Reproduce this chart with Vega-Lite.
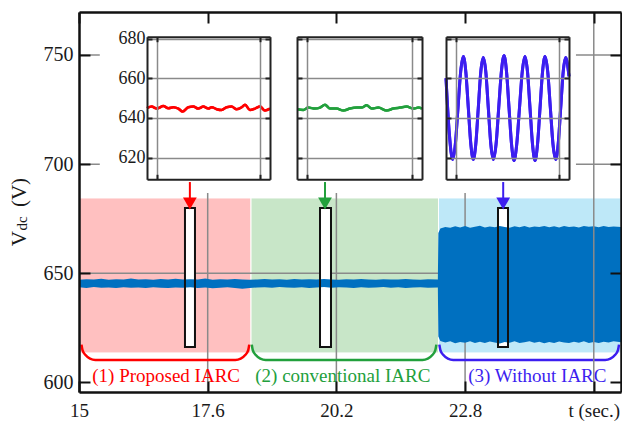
{
 "$schema": "https://vega.github.io/schema/vega-lite/v6.json",
 "width": 542, "height": 380,
 "autosize": "none",
 "padding": {"left": 79, "top": 12, "right": 1, "bottom": 34},
 "background": "white",
 "config": {"view": {"stroke": null}, "font": "Times New Roman", "axis": {"labelFont": "Times New Roman"}, "text": {"font": "Times New Roman"}},
 "datasets": {
  "regions": [
   {"case": "1", "t0": 15, "t1": 18.475, "lo": 613.5, "hi": 684.5},
   {"case": "2", "t0": 18.475, "t1": 22.263, "lo": 613.5, "hi": 684.5},
   {"case": "3", "t0": 22.263, "t1": 25.95, "lo": 613.5, "hi": 684.5}
  ],
  "vgrid": [{"t": 17.6}, {"t": 20.2}, {"t": 22.8}],
  "hgrid": [{"v": 650}, {"v": 700}, {"v": 750}],
  "tline": [{"t": 25.4}],
  "insetbg": [{"t0": 15.42, "t1": 25.04, "lo": 686.8, "hi": 769.7}],
  "signal": [
   {"t": 15.00, "lo": 643.6, "hi": 647.0}, {"t": 15.15, "lo": 643.3, "hi": 647.3}, {"t": 15.30, "lo": 643.7, "hi": 647.1},
   {"t": 15.45, "lo": 643.4, "hi": 647.5}, {"t": 15.60, "lo": 643.5, "hi": 647.0}, {"t": 15.75, "lo": 643.2, "hi": 647.3},
   {"t": 15.90, "lo": 643.6, "hi": 647.2}, {"t": 16.05, "lo": 643.4, "hi": 647.6}, {"t": 16.20, "lo": 643.5, "hi": 647.1},
   {"t": 16.35, "lo": 643.3, "hi": 647.3}, {"t": 16.50, "lo": 643.6, "hi": 647.0}, {"t": 16.65, "lo": 643.4, "hi": 647.4},
   {"t": 16.80, "lo": 643.2, "hi": 647.2}, {"t": 16.95, "lo": 643.5, "hi": 647.5}, {"t": 17.10, "lo": 643.4, "hi": 647.1},
   {"t": 17.25, "lo": 643.6, "hi": 647.3}, {"t": 17.40, "lo": 643.3, "hi": 647.2}, {"t": 17.55, "lo": 643.5, "hi": 647.6},
   {"t": 17.70, "lo": 643.1, "hi": 647.0}, {"t": 17.85, "lo": 643.4, "hi": 647.3}, {"t": 18.00, "lo": 643.6, "hi": 647.2},
   {"t": 18.15, "lo": 643.3, "hi": 647.4}, {"t": 18.30, "lo": 642.9, "hi": 647.1}, {"t": 18.45, "lo": 643.3, "hi": 647.0},
   {"t": 18.60, "lo": 643.5, "hi": 647.2}, {"t": 18.75, "lo": 643.6, "hi": 647.4}, {"t": 18.90, "lo": 643.4, "hi": 647.1},
   {"t": 19.05, "lo": 643.7, "hi": 647.3}, {"t": 19.20, "lo": 643.5, "hi": 647.0}, {"t": 19.35, "lo": 643.4, "hi": 647.4},
   {"t": 19.50, "lo": 643.6, "hi": 647.2}, {"t": 19.65, "lo": 643.3, "hi": 647.3}, {"t": 19.80, "lo": 643.5, "hi": 647.1},
   {"t": 19.95, "lo": 643.7, "hi": 647.4}, {"t": 20.10, "lo": 643.4, "hi": 647.2}, {"t": 20.25, "lo": 643.6, "hi": 647.0},
   {"t": 20.40, "lo": 643.5, "hi": 647.3}, {"t": 20.55, "lo": 643.3, "hi": 647.1}, {"t": 20.70, "lo": 643.6, "hi": 647.4},
   {"t": 20.85, "lo": 643.4, "hi": 647.2}, {"t": 21.00, "lo": 643.5, "hi": 647.0}, {"t": 21.15, "lo": 643.7, "hi": 647.3},
   {"t": 21.30, "lo": 643.4, "hi": 647.2}, {"t": 21.45, "lo": 643.6, "hi": 647.1}, {"t": 21.60, "lo": 643.3, "hi": 647.4},
   {"t": 21.75, "lo": 643.5, "hi": 647.2}, {"t": 21.90, "lo": 643.6, "hi": 647.0}, {"t": 22.05, "lo": 643.4, "hi": 647.3},
   {"t": 22.25, "lo": 643.5, "hi": 647.1},
   {"t": 22.26, "lo": 621.0, "hi": 668.5}, {"t": 22.30, "lo": 619.0, "hi": 670.5}, {"t": 22.40, "lo": 618.3, "hi": 671.2},
   {"t": 22.50, "lo": 618.8, "hi": 670.8}, {"t": 22.60, "lo": 617.9, "hi": 671.5}, {"t": 22.70, "lo": 618.5, "hi": 671.0},
   {"t": 22.80, "lo": 618.2, "hi": 671.6}, {"t": 22.90, "lo": 618.9, "hi": 670.9}, {"t": 23.00, "lo": 618.0, "hi": 671.3},
   {"t": 23.10, "lo": 618.6, "hi": 671.8}, {"t": 23.20, "lo": 618.1, "hi": 671.0}, {"t": 23.30, "lo": 618.7, "hi": 671.4},
   {"t": 23.40, "lo": 618.3, "hi": 671.1}, {"t": 23.50, "lo": 617.8, "hi": 671.7}, {"t": 23.60, "lo": 618.5, "hi": 671.2},
   {"t": 23.70, "lo": 618.2, "hi": 670.8}, {"t": 23.80, "lo": 618.8, "hi": 671.5}, {"t": 23.90, "lo": 618.0, "hi": 671.1},
   {"t": 24.00, "lo": 618.4, "hi": 671.6}, {"t": 24.10, "lo": 618.9, "hi": 671.0}, {"t": 24.20, "lo": 618.2, "hi": 671.4},
   {"t": 24.30, "lo": 618.6, "hi": 671.2}, {"t": 24.40, "lo": 617.9, "hi": 671.7}, {"t": 24.50, "lo": 618.5, "hi": 671.1},
   {"t": 24.60, "lo": 618.1, "hi": 671.5}, {"t": 24.70, "lo": 618.7, "hi": 671.0}, {"t": 24.80, "lo": 618.3, "hi": 671.6},
   {"t": 24.90, "lo": 618.0, "hi": 671.2}, {"t": 25.00, "lo": 618.6, "hi": 671.4}, {"t": 25.10, "lo": 618.2, "hi": 671.0},
   {"t": 25.20, "lo": 618.8, "hi": 671.6}, {"t": 25.30, "lo": 618.1, "hi": 671.3}, {"t": 25.40, "lo": 618.5, "hi": 671.5},
   {"t": 25.50, "lo": 618.0, "hi": 671.1}, {"t": 25.60, "lo": 618.6, "hi": 671.7}, {"t": 25.70, "lo": 618.3, "hi": 671.2},
   {"t": 25.80, "lo": 618.9, "hi": 671.4}, {"t": 25.95, "lo": 618.4, "hi": 671.2}
  ],
  "windows": [
   {"t0": 17.141, "t1": 17.343, "lo": 616.2, "hi": 679.9},
   {"t0": 19.869, "t1": 20.091, "lo": 616.2, "hi": 679.9},
   {"t0": 23.465, "t1": 23.667, "lo": 616.2, "hi": 679.9}
  ],
  "brackets": [
   {"case": "1", "t": 15.05, "v": 617.3}, {"case": "1", "t": 15.071, "v": 614.8}, {"case": "1", "t": 15.132, "v": 612.5}, {"case": "1", "t": 15.223, "v": 610.9}, {"case": "1", "t": 15.33, "v": 610.3},
   {"case": "1", "t": 18.16, "v": 610.3}, {"case": "1", "t": 18.267, "v": 610.9}, {"case": "1", "t": 18.358, "v": 612.5}, {"case": "1", "t": 18.419, "v": 614.8}, {"case": "1", "t": 18.44, "v": 617.3},
   {"case": "2", "t": 18.49, "v": 617.3}, {"case": "2", "t": 18.511, "v": 614.8}, {"case": "2", "t": 18.572, "v": 612.5}, {"case": "2", "t": 18.663, "v": 610.9}, {"case": "2", "t": 18.77, "v": 610.3},
   {"case": "2", "t": 21.94, "v": 610.3}, {"case": "2", "t": 22.047, "v": 610.9}, {"case": "2", "t": 22.138, "v": 612.5}, {"case": "2", "t": 22.199, "v": 614.8}, {"case": "2", "t": 22.22, "v": 617.3},
   {"case": "3", "t": 22.28, "v": 617.3}, {"case": "3", "t": 22.301, "v": 614.8}, {"case": "3", "t": 22.362, "v": 612.5}, {"case": "3", "t": 22.453, "v": 610.9}, {"case": "3", "t": 22.56, "v": 610.3},
   {"case": "3", "t": 25.63, "v": 610.3}, {"case": "3", "t": 25.737, "v": 610.9}, {"case": "3", "t": 25.828, "v": 612.5}, {"case": "3", "t": 25.889, "v": 614.8}, {"case": "3", "t": 25.91, "v": 617.3}
  ],
  "labels": [
   {"case": "1", "t": 16.76, "v": 603.0, "label": "(1) Proposed IARC"},
   {"case": "2", "t": 20.33, "v": 603.0, "label": "(2) conventional IARC"},
   {"case": "3", "t": 24.26, "v": 603.0, "label": "(3) Without IARC"}
  ],
  "arrows": [
   {"case": "1", "t": 17.24, "top": 691.8, "bot": 684.0, "head": 681.96},
   {"case": "2", "t": 19.97, "top": 691.8, "bot": 684.0, "head": 681.96},
   {"case": "3", "t": 23.57, "top": 691.8, "bot": 684.0, "head": 681.96}
  ],
  "ytitle": [
   {"label": "V", "t": 13.81, "v": 665.9},
   {"label": "dc", "t": 13.85, "v": 672.8},
   {"label": "(V)", "t": 13.81, "v": 687.0}
  ],
  "inset1": [
   {"x": 0.0, "v": 644.9}, {"x": 0.038, "v": 645.7}, {"x": 0.079, "v": 644.7}, {"x": 0.133, "v": 646.0}, {"x": 0.173, "v": 644.9},
   {"x": 0.214, "v": 645.4}, {"x": 0.255, "v": 644.7}, {"x": 0.290, "v": 643.2}, {"x": 0.336, "v": 645.4}, {"x": 0.377, "v": 645.7},
   {"x": 0.417, "v": 644.7}, {"x": 0.458, "v": 645.7}, {"x": 0.499, "v": 644.7}, {"x": 0.526, "v": 645.4}, {"x": 0.567, "v": 644.4},
   {"x": 0.607, "v": 644.0}, {"x": 0.648, "v": 645.4}, {"x": 0.688, "v": 645.7}, {"x": 0.729, "v": 644.4}, {"x": 0.770, "v": 645.4},
   {"x": 0.797, "v": 646.7}, {"x": 0.837, "v": 644.0}, {"x": 0.878, "v": 644.7}, {"x": 0.919, "v": 645.7}, {"x": 0.959, "v": 643.7},
   {"x": 1.0, "v": 644.7}
  ],
  "inset2": [
   {"x": 0.003, "v": 644.4}, {"x": 0.051, "v": 644.0}, {"x": 0.091, "v": 645.2}, {"x": 0.144, "v": 644.7}, {"x": 0.184, "v": 645.2},
   {"x": 0.224, "v": 646.7}, {"x": 0.264, "v": 644.7}, {"x": 0.317, "v": 644.7}, {"x": 0.371, "v": 643.7}, {"x": 0.424, "v": 644.7},
   {"x": 0.477, "v": 645.2}, {"x": 0.517, "v": 645.2}, {"x": 0.557, "v": 646.4}, {"x": 0.597, "v": 644.7}, {"x": 0.651, "v": 645.2},
   {"x": 0.717, "v": 643.7}, {"x": 0.771, "v": 644.7}, {"x": 0.824, "v": 645.2}, {"x": 0.877, "v": 645.7}, {"x": 0.931, "v": 644.7},
   {"x": 0.971, "v": 645.2}, {"x": 1.0, "v": 644.7}
  ],
  "inset3": [
   {"x": 0.000, "v": 660}, {"x": 0.027, "v": 632}, {"x": 0.054, "v": 619},
   {"x": 0.0758, "v": 626.6}, {"x": 0.0975, "v": 645}, {"x": 0.1193, "v": 663.4}, {"x": 0.141, "v": 671},
   {"x": 0.161, "v": 663.4}, {"x": 0.1815, "v": 645}, {"x": 0.202, "v": 626.6}, {"x": 0.222, "v": 619},
   {"x": 0.242, "v": 626.6}, {"x": 0.2625, "v": 645}, {"x": 0.283, "v": 663.4}, {"x": 0.303, "v": 670.5},
   {"x": 0.3235, "v": 663.4}, {"x": 0.344, "v": 645}, {"x": 0.3645, "v": 626.6}, {"x": 0.385, "v": 619},
   {"x": 0.4068, "v": 626.6}, {"x": 0.4285, "v": 645}, {"x": 0.4503, "v": 663.4}, {"x": 0.472, "v": 671.5},
   {"x": 0.492, "v": 663.4}, {"x": 0.5125, "v": 645}, {"x": 0.533, "v": 626.6}, {"x": 0.553, "v": 618.5},
   {"x": 0.575, "v": 626.6}, {"x": 0.5975, "v": 645}, {"x": 0.620, "v": 663.4}, {"x": 0.642, "v": 671},
   {"x": 0.6625, "v": 663.4}, {"x": 0.683, "v": 645}, {"x": 0.7035, "v": 626.6}, {"x": 0.724, "v": 618.5},
   {"x": 0.744, "v": 626.6}, {"x": 0.7645, "v": 645}, {"x": 0.785, "v": 663.4}, {"x": 0.805, "v": 671},
   {"x": 0.827, "v": 663.4}, {"x": 0.8485, "v": 645}, {"x": 0.870, "v": 626.6}, {"x": 0.892, "v": 619},
   {"x": 0.912, "v": 626.6}, {"x": 0.9325, "v": 645}, {"x": 0.953, "v": 663.4}, {"x": 0.973, "v": 670.5},
   {"x": 1.000, "v": 661}
  ]
 },
 "layer": [
  {
   "resolve": {"axis": {"x": "independent", "y": "independent"}},
   "layer": [
    {"data": {"name": "regions"}, "mark": {"type": "rect", "stroke": "white", "strokeWidth": 1},
     "encoding": {
      "x": {"field": "t0", "type": "quantitative", "scale": {"domain": [15, 25.95], "nice": false, "zero": false},
            "axis": {"orient": "bottom", "values": [15, 17.6, 20.2, 22.8, 25.4], "labelExpr": "datum.value > 25 ? 't (sec.)' : (datum.value < 16 ? '15' : format(datum.value, '.1f'))",
                     "labelFont": "Times New Roman", "labelFontSize": 19, "labelColor": "#1a1a1a", "labelPadding": 20, "tickSize": -11, "tickWidth": 2, "tickColor": "#111",
                     "domainColor": "#111", "domainWidth": 2.5, "grid": false, "title": null, "labelFlush": false, "labelOverlap": false, "labelBound": false, "zindex": 2}},
      "x2": {"field": "t1"},
      "y": {"field": "lo", "type": "quantitative", "scale": {"domain": [595.6, 769.7], "nice": false, "zero": false},
            "axis": {"orient": "left", "values": [600, 650, 700, 750], "labelFont": "Times New Roman", "labelFontSize": 20, "labelColor": "#1a1a1a", "labelPadding": 17,
                     "tickSize": -11, "tickWidth": 2, "tickColor": "#111", "domainColor": "#111", "domainWidth": 2.5, "grid": false, "title": null,
                     "labelFlush": false, "labelOverlap": false, "labelBound": false, "zindex": 2}},
      "y2": {"field": "hi"},
      "fill": {"field": "case", "type": "nominal", "scale": {"domain": ["1", "2", "3"], "range": ["#FFC0C0", "#C8E6C8", "#BEE8F8"]}, "legend": null}
     }},
    {"data": {"name": "vgrid"}, "mark": {"type": "rule", "color": "#8a8a8a", "strokeWidth": 1.5},
     "encoding": {"x": {"field": "t", "type": "quantitative", "scale": {"domain": [15, 25.95], "nice": false, "zero": false}, "axis": null}}},
    {"data": {"name": "hgrid"}, "mark": {"type": "rule", "color": "#8a8a8a", "strokeWidth": 1.5},
     "encoding": {"y": {"field": "v", "type": "quantitative", "scale": {"domain": [595.6, 769.7], "nice": false, "zero": false}, "axis": null}}},
    {"data": {"name": "windows"}, "mark": {"type": "rect", "fill": "white"},
     "encoding": {
      "x": {"field": "t0", "type": "quantitative", "scale": {"domain": [15, 25.95], "nice": false, "zero": false}, "axis": null},
      "x2": {"field": "t1"},
      "y": {"field": "lo", "type": "quantitative", "scale": {"domain": [595.6, 769.7], "nice": false, "zero": false}, "axis": null},
      "y2": {"field": "hi"}
     }},
    {"data": {"name": "signal"}, "mark": {"type": "area", "color": "#0070C0"},
     "encoding": {
      "x": {"field": "t", "type": "quantitative", "scale": {"domain": [15, 25.95], "nice": false, "zero": false}, "axis": null},
      "y": {"field": "lo", "type": "quantitative", "scale": {"domain": [595.6, 769.7], "nice": false, "zero": false}, "axis": null},
      "y2": {"field": "hi"}
     }},
    {"data": {"name": "windows"}, "mark": {"type": "rect", "fill": null, "fillOpacity": 0, "stroke": "#111", "strokeWidth": 2},
     "encoding": {
      "x": {"field": "t0", "type": "quantitative", "scale": {"domain": [15, 25.95], "nice": false, "zero": false}, "axis": null},
      "x2": {"field": "t1"},
      "y": {"field": "lo", "type": "quantitative", "scale": {"domain": [595.6, 769.7], "nice": false, "zero": false}, "axis": null},
      "y2": {"field": "hi"}
     }},
    {"data": {"name": "brackets"}, "mark": {"type": "line", "strokeWidth": 2.5, "interpolate": "monotone"},
     "encoding": {
      "x": {"field": "t", "type": "quantitative", "scale": {"domain": [15, 25.95], "nice": false, "zero": false}, "axis": null},
      "y": {"field": "v", "type": "quantitative", "scale": {"domain": [595.6, 769.7], "nice": false, "zero": false}, "axis": null},
      "color": {"field": "case", "type": "nominal", "scale": {"domain": ["1", "2", "3"], "range": ["#FF0000", "#22A03C", "#3C1EF0"]}, "legend": null}
     }},
    {"data": {"name": "labels"}, "mark": {"type": "text", "font": "Times New Roman", "fontSize": 19, "align": "center", "baseline": "middle"},
     "encoding": {
      "x": {"field": "t", "type": "quantitative", "scale": {"domain": [15, 25.95], "nice": false, "zero": false}, "axis": null},
      "y": {"field": "v", "type": "quantitative", "scale": {"domain": [595.6, 769.7], "nice": false, "zero": false}, "axis": null},
      "text": {"field": "label"},
      "color": {"field": "case", "type": "nominal", "scale": {"domain": ["1", "2", "3"], "range": ["#FF0000", "#22A03C", "#3C1EF0"]}, "legend": null}
     }},
    {"data": {"name": "tline"}, "mark": {"type": "rule", "color": "#8a8a8a", "strokeWidth": 1.5},
     "encoding": {"x": {"field": "t", "type": "quantitative", "scale": {"domain": [15, 25.95], "nice": false, "zero": false}, "axis": null}}},
    {"data": {"name": "insetbg"}, "mark": {"type": "rect", "fill": "white"},
     "encoding": {
      "x": {"field": "t0", "type": "quantitative", "scale": {"domain": [15, 25.95], "nice": false, "zero": false},
            "axis": {"orient": "top", "values": [15, 17.6, 20.2, 22.8, 25.4], "labels": false, "tickSize": -11, "tickWidth": 2, "tickColor": "#111",
                     "domainColor": "#111", "domainWidth": 2.5, "grid": false, "title": null, "zindex": 2}},
      "x2": {"field": "t1"},
      "y": {"field": "lo", "type": "quantitative", "scale": {"domain": [595.6, 769.7], "nice": false, "zero": false},
            "axis": {"orient": "right", "values": [600, 650, 700, 750], "labels": false, "tickSize": -11, "tickWidth": 2, "tickColor": "#111",
                     "domainColor": "#111", "domainWidth": 2.5, "grid": false, "title": null, "zindex": 2}},
      "y2": {"field": "hi"}
     }},
    {"data": {"name": "arrows"}, "mark": {"type": "rule", "strokeWidth": 2},
     "encoding": {
      "x": {"field": "t", "type": "quantitative", "scale": {"domain": [15, 25.95], "nice": false, "zero": false}, "axis": null},
      "y": {"field": "top", "type": "quantitative", "scale": {"domain": [595.6, 769.7], "nice": false, "zero": false}, "axis": null},
      "y2": {"field": "bot"},
      "color": {"field": "case", "type": "nominal", "scale": {"domain": ["1", "2", "3"], "range": ["#FF0000", "#22A03C", "#3C1EF0"]}, "legend": null}
     }},
    {"data": {"name": "arrows"}, "mark": {"type": "point", "shape": "triangle-down", "filled": true, "size": 190, "opacity": 1},
     "encoding": {
      "x": {"field": "t", "type": "quantitative", "scale": {"domain": [15, 25.95], "nice": false, "zero": false}, "axis": null},
      "y": {"field": "head", "type": "quantitative", "scale": {"domain": [595.6, 769.7], "nice": false, "zero": false}, "axis": null},
      "color": {"field": "case", "type": "nominal", "scale": {"domain": ["1", "2", "3"], "range": ["#FF0000", "#22A03C", "#3C1EF0"]}, "legend": null}
     }},
    {"data": {"name": "ytitle"}, "transform": [{"filter": "datum.label != 'dc'"}],
     "mark": {"type": "text", "font": "Times New Roman", "fontSize": 21, "angle": 270, "align": "center", "baseline": "middle", "color": "#1a1a1a"},
     "encoding": {
      "x": {"field": "t", "type": "quantitative", "scale": {"domain": [15, 25.95], "nice": false, "zero": false}, "axis": null},
      "y": {"field": "v", "type": "quantitative", "scale": {"domain": [595.6, 769.7], "nice": false, "zero": false}, "axis": null},
      "text": {"field": "label"}
     }},
    {"data": {"name": "ytitle"}, "transform": [{"filter": "datum.label == 'dc'"}],
     "mark": {"type": "text", "font": "Times New Roman", "fontSize": 15, "angle": 270, "align": "center", "baseline": "middle", "color": "#1a1a1a"},
     "encoding": {
      "x": {"field": "t", "type": "quantitative", "scale": {"domain": [15, 25.95], "nice": false, "zero": false}, "axis": null},
      "y": {"field": "v", "type": "quantitative", "scale": {"domain": [595.6, 769.7], "nice": false, "zero": false}, "axis": null},
      "text": {"field": "label"}
     }}
   ]
  },
  {
   "data": {"name": "inset1"},
   "resolve": {"axis": {"x": "independent", "y": "independent"}},
   "layer": [
    {"mark": {"type": "line", "color": "#FF0000", "strokeWidth": 2.5, "interpolate": "monotone"},
     "encoding": {
      "x": {"field": "x", "type": "quantitative", "scale": {"domain": [0, 1], "range": [68, 191], "nice": false, "zero": false},
            "axis": {"orient": "top", "offset": -24.7, "values": [0.08, 0.92], "labels": false, "tickSize": -5, "tickWidth": 2, "tickColor": "#222",
                     "domainColor": "#222", "domainWidth": 2, "grid": true, "gridColor": "#8a8a8a", "gridWidth": 1.5, "title": null, "zindex": 1}},
      "y": {"field": "v", "type": "quantitative", "scale": {"domain": [609, 681], "range": [167.3, 24.7], "nice": false, "zero": false},
            "axis": {"orient": "left", "offset": -68, "values": [620, 640, 660, 680], "labels": true, "labelFont": "Times New Roman", "labelFontSize": 18, "labelColor": "#1a1a1a",
                     "labelPadding": 7, "tickSize": -5, "tickWidth": 2, "tickColor": "#222", "domainColor": "#222", "domainWidth": 2,
                     "grid": true, "gridColor": "#8a8a8a", "gridWidth": 1.5, "title": null, "labelFlush": false, "labelOverlap": false, "zindex": 1}}
     }},
    {"mark": {"type": "line", "color": "#FF0000", "strokeWidth": 2.5, "interpolate": "monotone"},
     "encoding": {
      "x": {"field": "x", "type": "quantitative", "scale": {"domain": [0, 1], "range": [68, 191], "nice": false, "zero": false},
            "axis": {"orient": "bottom", "offset": -212.7, "values": [0.08, 0.92], "labels": false, "tickSize": -5, "tickWidth": 2, "tickColor": "#222",
                     "domainColor": "#222", "domainWidth": 2, "grid": false, "title": null, "zindex": 1}},
      "y": {"field": "v", "type": "quantitative", "scale": {"domain": [609, 681], "range": [167.3, 24.7], "nice": false, "zero": false},
            "axis": {"orient": "right", "offset": -351, "values": [620, 640, 660, 680], "labels": false, "tickSize": -5, "tickWidth": 2, "tickColor": "#222",
                     "domainColor": "#222", "domainWidth": 2, "grid": false, "title": null, "zindex": 1}}
     }}
   ]
  },
  {
   "data": {"name": "inset2"},
   "resolve": {"axis": {"x": "independent", "y": "independent"}},
   "layer": [
    {"mark": {"type": "line", "color": "#22A03C", "strokeWidth": 2.5, "interpolate": "monotone"},
     "encoding": {
      "x": {"field": "x", "type": "quantitative", "scale": {"domain": [0, 1], "range": [218, 343], "nice": false, "zero": false},
            "axis": {"orient": "top", "offset": -24.7, "values": [0.08, 0.92], "labels": false, "tickSize": -5, "tickWidth": 2, "tickColor": "#222",
                     "domainColor": "#222", "domainWidth": 2, "grid": true, "gridColor": "#8a8a8a", "gridWidth": 1.5, "title": null, "zindex": 1}},
      "y": {"field": "v", "type": "quantitative", "scale": {"domain": [609, 681], "range": [167.3, 24.7], "nice": false, "zero": false},
            "axis": {"orient": "left", "offset": -218, "values": [620, 640, 660, 680], "labels": false, "tickSize": -5, "tickWidth": 2, "tickColor": "#222",
                     "domainColor": "#222", "domainWidth": 2, "grid": true, "gridColor": "#8a8a8a", "gridWidth": 1.5, "title": null, "zindex": 1}}
     }},
    {"mark": {"type": "line", "color": "#22A03C", "strokeWidth": 2.5, "interpolate": "monotone"},
     "encoding": {
      "x": {"field": "x", "type": "quantitative", "scale": {"domain": [0, 1], "range": [218, 343], "nice": false, "zero": false},
            "axis": {"orient": "bottom", "offset": -212.7, "values": [0.08, 0.92], "labels": false, "tickSize": -5, "tickWidth": 2, "tickColor": "#222",
                     "domainColor": "#222", "domainWidth": 2, "grid": false, "title": null, "zindex": 1}},
      "y": {"field": "v", "type": "quantitative", "scale": {"domain": [609, 681], "range": [167.3, 24.7], "nice": false, "zero": false},
            "axis": {"orient": "right", "offset": -199, "values": [620, 640, 660, 680], "labels": false, "tickSize": -5, "tickWidth": 2, "tickColor": "#222",
                     "domainColor": "#222", "domainWidth": 2, "grid": false, "title": null, "zindex": 1}}
     }}
   ]
  },
  {
   "data": {"name": "inset3"},
   "resolve": {"axis": {"x": "independent", "y": "independent"}},
   "layer": [
    {"mark": {"type": "line", "color": "#3C1EF0", "strokeWidth": 3, "interpolate": "monotone"},
     "encoding": {
      "x": {"field": "x", "type": "quantitative", "scale": {"domain": [0, 1], "range": [367, 490], "nice": false, "zero": false},
            "axis": {"orient": "top", "offset": -24.7, "values": [0.08, 0.92], "labels": false, "tickSize": -5, "tickWidth": 2, "tickColor": "#222",
                     "domainColor": "#222", "domainWidth": 2, "grid": true, "gridColor": "#8a8a8a", "gridWidth": 1.5, "title": null, "zindex": 1}},
      "y": {"field": "v", "type": "quantitative", "scale": {"domain": [609, 681], "range": [167.3, 24.7], "nice": false, "zero": false},
            "axis": {"orient": "left", "offset": -367, "values": [620, 640, 660, 680], "labels": false, "tickSize": -5, "tickWidth": 2, "tickColor": "#222",
                     "domainColor": "#222", "domainWidth": 2, "grid": true, "gridColor": "#8a8a8a", "gridWidth": 1.5, "title": null, "zindex": 1}}
     }},
    {"mark": {"type": "line", "color": "#3C1EF0", "strokeWidth": 3, "interpolate": "monotone"},
     "encoding": {
      "x": {"field": "x", "type": "quantitative", "scale": {"domain": [0, 1], "range": [367, 490], "nice": false, "zero": false},
            "axis": {"orient": "bottom", "offset": -212.7, "values": [0.08, 0.92], "labels": false, "tickSize": -5, "tickWidth": 2, "tickColor": "#222",
                     "domainColor": "#222", "domainWidth": 2, "grid": false, "title": null, "zindex": 1}},
      "y": {"field": "v", "type": "quantitative", "scale": {"domain": [609, 681], "range": [167.3, 24.7], "nice": false, "zero": false},
            "axis": {"orient": "right", "offset": -52, "values": [620, 640, 660, 680], "labels": false, "tickSize": -5, "tickWidth": 2, "tickColor": "#222",
                     "domainColor": "#222", "domainWidth": 2, "grid": false, "title": null, "zindex": 1}}
     }}
   ]
  }
 ],
 "resolve": {"scale": {"x": "independent", "y": "independent"}}
}
